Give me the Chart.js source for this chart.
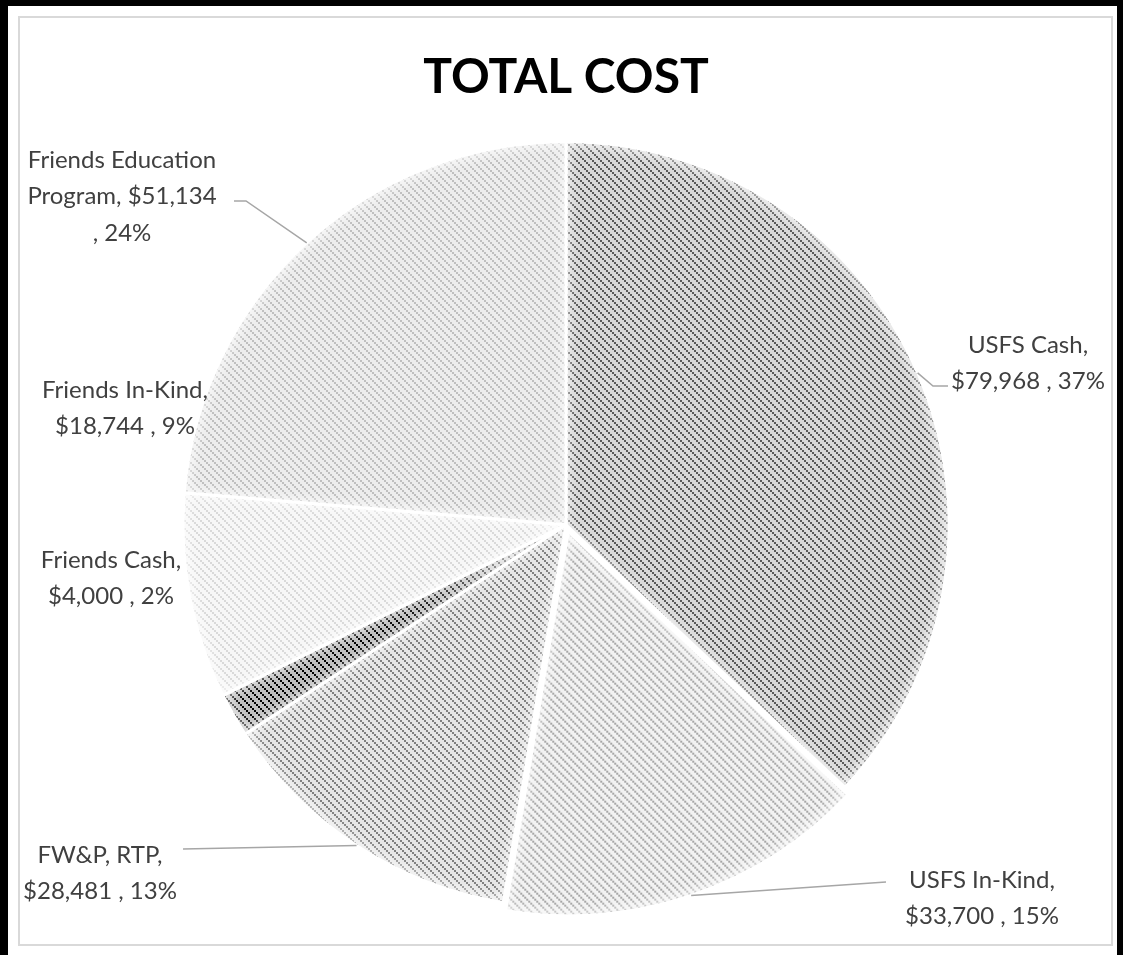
<!DOCTYPE html>
<html>
<head>
<meta charset="utf-8">
<script src="https://cdn.jsdelivr.net/npm/chart.js@4.4.0/dist/chart.umd.min.js"></script>
<style>
  html, body { margin: 0; padding: 0; background: #fff; }
  #wrap { position: relative; width: 1123px; height: 955px; overflow: hidden; }
  #frame { position: absolute; left: 0; top: 0; width: 1123px; height: 955px; box-sizing: border-box;
           border-left: 8px solid #000; border-top: 6px solid #000; border-right: 6px solid #000; }
  #plot { position: absolute; left: 18px; top: 16px; width: 1095px; height: 930px; box-sizing: border-box;
          border: 2px solid #d9d9d9; }
  canvas { position: absolute; left: 0; top: 0; }
</style>
</head>
<body>
<div id="wrap">
  <div id="frame"></div>
  <div id="plot"></div>
  <canvas id="totalCost" width="1123" height="955"></canvas>
</div>
<script>
const categories = ["USFS Cash", "USFS In-Kind", "FW&P, RTP", "Friends Cash", "Friends In-Kind", "Friends Education Program"];
const costs = [79968, 33700, 28481, 4000, 18744, 51134];
const percents = [37, 15, 13, 2, 9, 24];

// pattern colours (dots / background) per slice
const patternFg = ["#595959", "#a6a6a6", "#7f7f7f", "#000000", "#d9d9d9", "#bfbfbf"];
const patternBg = ["#d9d9d9", "#f2f2f2", "#e6e6e6", "#bfbfbf", "#f7f7f7", "#ededed"];

// where Excel put the data labels (centre x, first line y) and the leader start
const labelLayout = [
  { x: 1028, y: 345, lead: [[948, 386], [933, 386]] },
  { x: 982, y: 880, lead: [[886, 882]] },
  { x: 100, y: 855, lead: [[183, 849]] },
  { x: 111, y: 560, lead: null },
  { x: 125, y: 390, lead: null },
  { x: 122, y: 160, lead: [[234, 201], [246, 201]] },
];

const makePattern = (fg, bg) => {
  const c = document.createElement("canvas");
  c.width = 8;
  c.height = 8;
  const g = c.getContext("2d");
  g.fillStyle = bg;
  g.fillRect(0, 0, 8, 8);
  g.fillStyle = fg;
  for (let k = 0; k < 4; k++) g.fillRect(k * 2, k * 2, 2, 2);
  return g.createPattern(c, "repeat");
};

const money = (v) => "$" + v.toLocaleString("en-US");

const labelLines = (i) => {
  const tail = money(costs[i]);
  if (i === 5) return ["Friends Education", "Program, " + tail, ", " + percents[i] + "%"];
  return [categories[i] + ",", tail + " , " + percents[i] + "%"];
};

// how far chart.js moves an exploded arc
const arcShift = (arc) => {
  const { startAngle, endAngle } = arc.getProps(["startAngle", "endAngle"], true);
  const off = (arc.options.offset || 0) / 4;
  const fix = 1 - Math.sin(Math.min(Math.PI, endAngle - startAngle));
  return off * (1 + fix);
};

// soft light rim inside each slice, like the excel bevel
const sliceGlow = {
  id: "sliceGlow",
  afterDatasetsDraw(chart) {
    const ctx = chart.ctx;
    chart.getDatasetMeta(0).data.forEach((arc) => {
      const { x, y, startAngle, endAngle, outerRadius } = arc.getProps(["x", "y", "startAngle", "endAngle", "outerRadius"], true);
      const mid = (startAngle + endAngle) / 2;
      const s = arcShift(arc);
      const cx = x + Math.cos(mid) * s;
      const cy = y + Math.sin(mid) * s;
      const r = outerRadius - 1.5;
      ctx.save();
      ctx.beginPath();
      ctx.moveTo(cx, cy);
      ctx.arc(cx, cy, r, startAngle, endAngle);
      ctx.closePath();
      ctx.clip();
      ctx.filter = "blur(4px)";
      ctx.strokeStyle = "rgba(255,255,255,0.75)";
      ctx.lineWidth = 7;
      ctx.stroke();
      ctx.restore();
    });
  },
};

const pieLabels = {
  id: "pieLabels",
  afterDraw(chart) {
    const ctx = chart.ctx;
    const arcs = chart.getDatasetMeta(0).data;
    ctx.save();
    ctx.font = "24px Lato";
    ctx.fillStyle = "#404040";
    ctx.textAlign = "center";
    ctx.textBaseline = "middle";
    ctx.strokeStyle = "#a6a6a6";
    ctx.lineWidth = 1.5;
    arcs.forEach((arc, i) => {
      const pos = labelLayout[i];
      labelLines(i).forEach((t, j) => ctx.fillText(t, pos.x, pos.y + j * 36.5));
      if (!pos.lead) return;
      const { x, y, startAngle, endAngle, outerRadius } = arc.getProps(["x", "y", "startAngle", "endAngle", "outerRadius"], true);
      const mid = (startAngle + endAngle) / 2;
      const shift = arcShift(arc);
      const ex = x + Math.cos(mid) * (outerRadius + shift);
      const ey = y + Math.sin(mid) * (outerRadius + shift);
      ctx.beginPath();
      ctx.moveTo(pos.lead[0][0], pos.lead[0][1]);
      pos.lead.slice(1).forEach((p) => ctx.lineTo(p[0], p[1]));
      ctx.lineTo(ex, ey);
      ctx.stroke();
    });
    ctx.restore();
  },
};

const canvas = document.getElementById("totalCost");
const chart = new Chart(canvas, {
  type: "pie",
  data: {
    labels: categories,
    datasets: [
      {
        data: costs,
        backgroundColor: patternFg.map((fg, i) => makePattern(fg, patternBg[i])),
        borderColor: "#ffffff",
        borderWidth: 3,
        offset: [0, 28, 0, 0, 0, 0],
      },
    ],
  },
  options: {
    responsive: false,
    animation: false,
    radius: 383,
    layout: { padding: { top: 39, bottom: 22, left: 10, right: 1 } },
    plugins: {
      legend: { display: false },
      tooltip: { enabled: false },
      title: {
        display: true,
        text: "TOTAL COST",
        color: "#000000",
        font: { family: "Lato", weight: "bold", size: 48 },
        padding: { top: 10, bottom: 10 },
      },
    },
  },
  plugins: [sliceGlow, pieLabels],
});
</script>
</body>
</html>
